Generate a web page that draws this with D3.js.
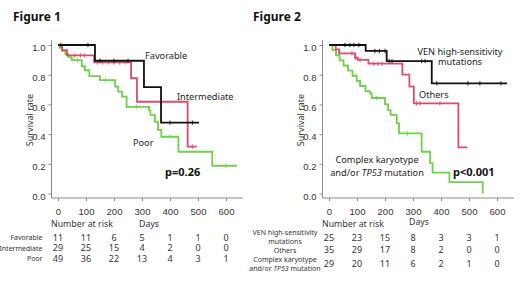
<!DOCTYPE html>
<html>
<head>
<meta charset="utf-8">
<script src="https://cdn.jsdelivr.net/npm/d3@7"></script>
<style>
  body { margin: 0; background: #fff; }
  svg { font-family: "Noto Sans", "Open Sans", sans-serif; }
</style>
</head>
<body>
<svg id="chart" width="520" height="292"></svg>
<script>
// ---- data ----
const dayTicks = [0, 100, 200, 300, 400, 500, 600];
const survTicks = [0, 0.2, 0.4, 0.6, 0.8, 1.0];

// Figure 1: [day, survival] steps, last point = end of follow-up
const f1Favorable = [[0,1],[132,0.894],[307,0.717],[368,0.477],[504,0.477]];
const f1Intermediate = [[0,1],[15,0.965],[32,0.93],[129,0.883],[261,0.776],[282,0.618],[463,0.315],[496,0.315]];
const f1Poor = [[0,1],[6,0.98],[15,0.959],[26,0.939],[37,0.918],[49,0.898],[85,0.857],[96,0.83],[112,0.79],[150,0.764],
  [204,0.72],[215,0.686],[229,0.652],[245,0.584],[325,0.56],[330,0.529],[346,0.484],[357,0.428],[369,0.382],
  [430,0.281],[551,0.187],[639,0.187]];
const f1FavorableCens = [10, 107, 150, 200, 250, 400, 480];
const f1IntermediateCens = [60, 80, 95, 140, 160, 180, 200, 220, 240, 480];
const f1PoorCens = [70, 170, 280, 400, 600];

// Figure 2
const f2Ven = [[0,1],[131,0.96],[206,0.892],[367,0.742],[636,0.742]];
const f2Others = [[0,1],[24,0.971],[36,0.943],[93,0.914],[103,0.9],[141,0.874],[262,0.8],[287,0.72],[303,0.607],[462,0.311],[494,0.311]];
const f2Complex = [[0,1],[12,0.966],[25,0.931],[38,0.897],[52,0.862],[68,0.828],[84,0.793],[99,0.759],[111,0.724],
  [130,0.69],[146,0.674],[153,0.643],[200,0.6],[211,0.562],[220,0.529],[242,0.473],[250,0.405],[331,0.281],
  [361,0.205],[370,0.14],[430,0.077],[549,0]];
const f2VenCens = [57, 75, 89, 107, 164, 180, 200, 215, 225, 331, 343, 385, 496, 539, 614];
const f2OthersCens = [82, 95, 111, 160, 175, 190, 313, 325, 396];
const f2ComplexCens = [170, 280];

// number at risk
const f1RiskFavorable = [11, 11, 6, 5, 1, 1, 0];
const f1RiskIntermediate = [29, 25, 15, 4, 2, 0, 0];
const f1RiskPoor = [49, 36, 22, 13, 4, 3, 1];
const f2RiskVen = [25, 23, 15, 8, 3, 3, 1];
const f2RiskOthers = [35, 29, 17, 8, 2, 0, 0];
const f2RiskComplex = [29, 20, 11, 6, 2, 1, 0];

const BLACK = "#111111", RED = "#e0486c", GREEN = "#6fd04c";

const svg = d3.select("#chart");
svg.append("rect").attr("width", 520).attr("height", 292).attr("fill", "#fff");

function stepValue(curve, t) {
  let v = curve[0][1];
  for (const p of curve) { if (p[0] <= t) v = p[1]; }
  return v;
}

function addText(g, x, y, parts, size, anchor) {
  const t = g.append("text").attr("x", x).attr("y", y)
    .attr("text-anchor", anchor || "start").attr("font-size", size).attr("fill", "#333");
  parts.forEach(p => t.append("tspan").attr("font-style", p.italic ? "italic" : null).text(p.t));
  return t;
}

function drawPanel(cfg) {
  const x = d3.scaleLinear().domain([0, 600]).range([cfg.x0, cfg.x0 + 168]);
  const y = d3.scaleLinear().domain([0, 1]).range([193.5, 45]);
  const g = svg.append("g");

  g.append("text").attr("x", cfg.titleX).attr("y", 21)
    .attr("font-size", "12px").attr("font-weight", "bold").attr("fill", "#111")
    .text(cfg.title);

  // axes
  const axisColor = "#8a8a8a";
  const axisLeftX = cfg.x0 - 6.5, axisY = 198;
  g.append("line").attr("x1", axisLeftX).attr("x2", axisLeftX).attr("y1", 40).attr("y2", axisY)
    .attr("stroke", axisColor);
  g.append("line").attr("x1", axisLeftX).attr("x2", x(660)).attr("y1", axisY).attr("y2", axisY)
    .attr("stroke", axisColor);

  const yAxis = d3.axisLeft(y).tickValues(survTicks).tickFormat(d3.format(".1f")).tickSize(3).tickPadding(3);
  const ya = g.append("g").attr("transform", `translate(${axisLeftX},0)`).call(yAxis);
  ya.select(".domain").remove();
  ya.selectAll("line").attr("stroke", axisColor);
  ya.selectAll("text").attr("font-size", "9.5px").attr("fill", "#333").attr("dy", "0.62em")
    .attr("font-family", "inherit");

  const xAxis = d3.axisBottom(x).tickValues(dayTicks).tickSize(3).tickPadding(7);
  const xa = g.append("g").attr("transform", `translate(0,${axisY})`).call(xAxis);
  xa.select(".domain").remove();
  xa.selectAll("line").attr("stroke", axisColor);
  xa.selectAll("text").attr("font-size", "9.5px").attr("fill", "#333").attr("font-family", "inherit");

  g.append("text").attr("transform", `translate(${axisLeftX - 19},120) rotate(-90)`)
    .attr("text-anchor", "middle").attr("font-size", "9px").attr("fill", "#333")
    .text("Survival rate");

  // curves
  const line = d3.line().x(d => x(d[0])).y(d => y(d[1])).curve(d3.curveStepAfter);
  cfg.curves.forEach(c => {
    g.append("path").datum(c.data).attr("d", line)
      .attr("fill", "none").attr("stroke", c.color).attr("stroke-width", 1.8);
    g.selectAll(null).data(c.cens).join("line")
      .attr("x1", d => x(d)).attr("x2", d => x(d))
      .attr("y1", d => y(stepValue(c.data, d)) - 2.2)
      .attr("y2", d => y(stepValue(c.data, d)) + 2.2)
      .attr("stroke", c.color).attr("stroke-width", 0.9);
  });

  // curve labels
  cfg.labels.forEach(l => addText(g, l.x, l.y, l.parts, "9.2px", l.anchor).attr("fill", "#222"));

  g.append("text").attr("x", cfg.pX).attr("y", 176)
    .attr("font-size", "11px").attr("font-weight", "bold").attr("fill", "#111").text(cfg.pText);

  // risk table
  g.append("text").attr("x", cfg.x0 - 7).attr("y", 226.5).attr("font-size", "8.8px").attr("fill", "#333")
    .text("Number at risk");
  g.append("text").attr("x", cfg.daysX).attr("y", cfg.daysY).attr("font-size", "8.8px").attr("fill", "#333")
    .text("Days");

  cfg.risk.forEach(r => {
    r.label.forEach(ln => addText(g, cfg.labelX, ln.y, ln.parts, "7px", cfg.labelAnchor));
    g.selectAll(null).data(r.values).join("text")
      .attr("x", (d, i) => x(dayTicks[i])).attr("y", r.y)
      .attr("text-anchor", "middle").attr("font-size", "9px").attr("fill", "#333")
      .text(d => d);
  });
}

drawPanel({
  title: "Figure 1", titleX: 13, x0: 58, daysX: 139, daysY: 226.5,
  curves: [
    {data: f1Poor, cens: f1PoorCens, color: GREEN},
    {data: f1Intermediate, cens: f1IntermediateCens, color: RED},
    {data: f1Favorable, cens: f1FavorableCens, color: BLACK}
  ],
  labels: [
    {x: 145, y: 58.5, parts: [{t: "Favorable"}]},
    {x: 177, y: 99.5, parts: [{t: "Intermediate"}]},
    {x: 133, y: 145.5, parts: [{t: "Poor"}]}
  ],
  pX: 165, pText: "p=0.26",
  labelX: 42.5, labelAnchor: "end",
  risk: [
    {label: [{y: 240.2, parts: [{t: "Favorable"}]}], values: f1RiskFavorable, y: 241},
    {label: [{y: 250.5, parts: [{t: "Intermediate"}]}], values: f1RiskIntermediate, y: 251.3},
    {label: [{y: 260.8, parts: [{t: "Poor"}]}], values: f1RiskPoor, y: 261.6}
  ]
});

drawPanel({
  title: "Figure 2", titleX: 253, x0: 329, daysX: 409, daysY: 225,
  curves: [
    {data: f2Complex, cens: f2ComplexCens, color: GREEN},
    {data: f2Others, cens: f2OthersCens, color: RED},
    {data: f2Ven, cens: f2VenCens, color: BLACK}
  ],
  labels: [
    {x: 460, y: 54.8, anchor: "middle", parts: [{t: "VEN high-sensitivity"}]},
    {x: 460, y: 65, anchor: "middle", parts: [{t: "mutations"}]},
    {x: 419, y: 97.5, parts: [{t: "Others"}]},
    {x: 377, y: 163.3, anchor: "middle", parts: [{t: "Complex karyotype"}]},
    {x: 377, y: 175.5, anchor: "middle", parts: [{t: "and/or "}, {t: "TP53", italic: true}, {t: " mutation"}]}
  ],
  pX: 453, pText: "p<0.001",
  labelX: 285, labelAnchor: "middle",
  risk: [
    {label: [{y: 235.2, parts: [{t: "VEN high-sensitivity"}]}, {y: 244.2, parts: [{t: "mutations"}]}],
      values: f2RiskVen, y: 240.6},
    {label: [{y: 252.5, parts: [{t: "Others"}]}], values: f2RiskOthers, y: 253.3},
    {label: [{y: 261.5, parts: [{t: "Complex karyotype"}]},
             {y: 270.8, parts: [{t: "and/or "}, {t: "TP53", italic: true}, {t: " mutation"}]}],
      values: f2RiskComplex, y: 266.6}
  ]
});
</script>
</body>
</html>
